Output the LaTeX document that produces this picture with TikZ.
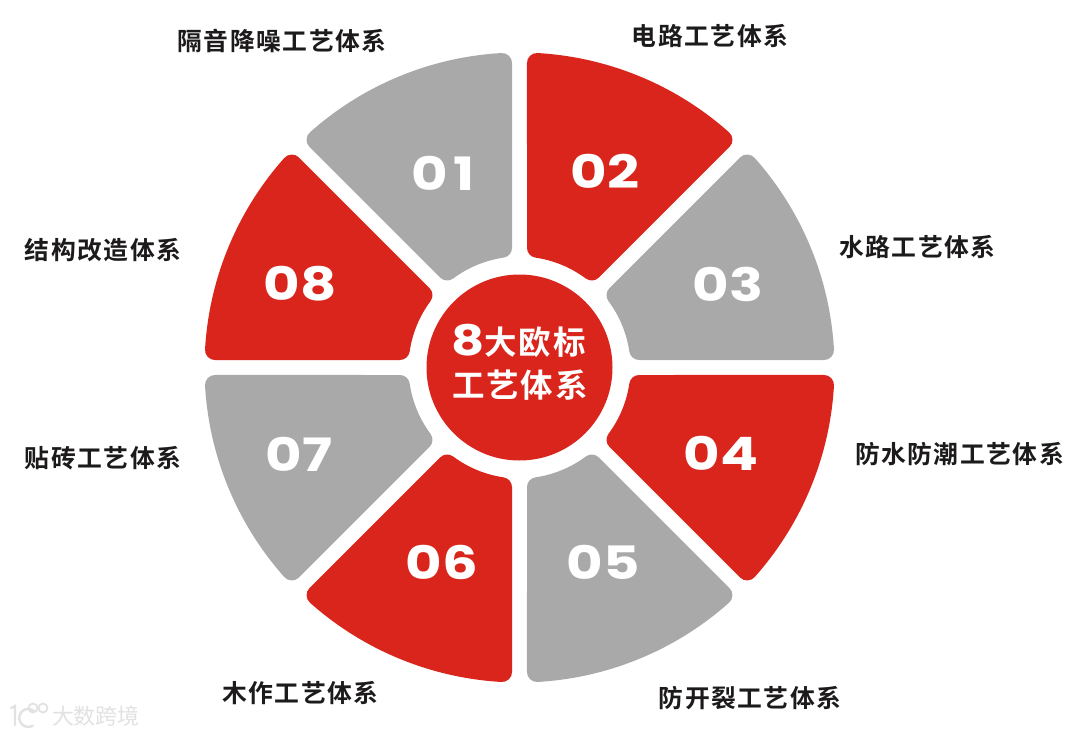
\documentclass[tikz,border=0pt]{standalone}
\usepackage{fontspec}
\usepackage{graphicx}
\setmainfont{Poppins}
\newfontfamily\cjk[BoldFont={Noto Sans CJK SC Bold},LetterSpace=6]{Noto Sans CJK SC}
\newfontfamily\cjkmark{Noto Sans CJK SC}
\newfontfamily\digits{Poppins Bold}
\definecolor{brandred}{HTML}{D9251C}
\definecolor{brandgray}{HTML}{A9A9A9}
\definecolor{labelink}{HTML}{1C1A1A}
\definecolor{markgray}{HTML}{E2E2E2}
\newcommand{\wedgeshape}[2]{%
  \pgfmathsetmacro{\da}{#1+\dOut}\pgfmathsetmacro{\db}{#1+45-\dOut}%
  \pgfmathsetmacro{\ia}{#1+\dIn}\pgfmathsetmacro{\ib}{#1+45-\dIn}%
  \path[wedge,fill=#2,draw=#2] (\da:\rOut)
    arc[start angle=\da,end angle=\db,radius=\rOut] -- (\ib:\rIn)
    arc[start angle=\ib,end angle=\ia,radius=\rIn] -- cycle;}
\newcommand{\wide}[1]{\scalebox{1.22}[1]{#1}}
\tikzset{
  wedge/.style={line join=round,line width=20pt},
  sectorno/.style={font=\digits\fontsize{46}{46}\selectfont,text=white,inner sep=0pt},
  caption/.style={font=\cjk\bfseries\fontsize{24.8}{24.8}\selectfont,text=labelink,inner sep=0pt},
  hubtext/.style={font=\cjk\bfseries\fontsize{32.5}{32.5}\selectfont,text=white,inner sep=0pt},
}
\begin{document}
\begin{tikzpicture}[x=1pt,y=1pt]
\useasboundingbox (0,0) rectangle (1080,-736);
\fill[white] (0,0) rectangle (1080,-736);
\pgfmathsetmacro{\rOut}{305}
\pgfmathsetmacro{\rIn}{121}
\pgfmathsetmacro{\dOut}{asin(17.5/\rOut)}
\pgfmathsetmacro{\dIn}{asin(17.5/\rIn)}
\begin{scope}[shift={(519.5,-367.5)}]
  \wedgeshape{90}{brandgray}
  \wedgeshape{45}{brandred}
  \wedgeshape{0}{brandgray}
  \wedgeshape{-45}{brandred}
  \wedgeshape{-90}{brandgray}
  \wedgeshape{-135}{brandred}
  \wedgeshape{180}{brandgray}
  \wedgeshape{135}{brandred}
  \fill[brandred] (0,0) circle[radius=93];
\end{scope}
\node[sectorno] (n1) at (443,-173) {\wide{0\hspace{5pt}1}};
\node[sectorno] (n2) at (605,-171) {\wide{02}};
\node[sectorno] (n3) at (728,-284) {\wide{03}};
\node[sectorno] (n4) at (721,-453) {\wide{04}};
\node[sectorno] (n5) at (603,-562) {\wide{05}};
\node[sectorno] (n6) at (442,-562) {\wide{06}};
\node[sectorno] (n7) at (299,-454) {\wide{07}};
\node[sectorno] (n8) at (300,-284) {\wide{08}};
\node[caption] (c1) at (282,-41) {隔音降噪工艺体系};
\node[caption] (c2) at (710,-36) {电路工艺体系};
\node[caption] (c3) at (917.5,-247) {水路工艺体系};
\node[caption] (c4) at (959.5,-454) {防水防潮工艺体系};
\node[caption] (c5) at (750,-698) {防开裂工艺体系};
\node[caption] (c6) at (300.5,-693) {木作工艺体系};
\node[caption] (c7) at (103,-458) {贴砖工艺体系};
\node[caption] (c8) at (103,-250) {结构改造体系};
\node[sectorno,font=\digits\fontsize{42}{42}\selectfont] (h8) at (468.5,-340) {\wide{8}};
\node[hubtext] (h1) at (535,-342) {大欧标};
\node[hubtext] (h2) at (520,-385) {工艺体系};
% watermark
\node[font=\cjkmark\fontsize{22}{22}\selectfont,text=markgray,inner sep=0pt] (wm) at (96,-716) {大数跨境};
\draw[markgray,line width=2.4pt,line cap=round] (11,-708) -- (15,-706) -- (15,-725);
\draw[markgray,line width=2.4pt,line cap=round] (34,-711) arc[start angle=50,end angle=300,radius=9];
\draw[markgray,line width=1.8pt] (33,-708) circle[radius=4.5] (43,-708) circle[radius=4.5];
\end{tikzpicture}
\end{document}
